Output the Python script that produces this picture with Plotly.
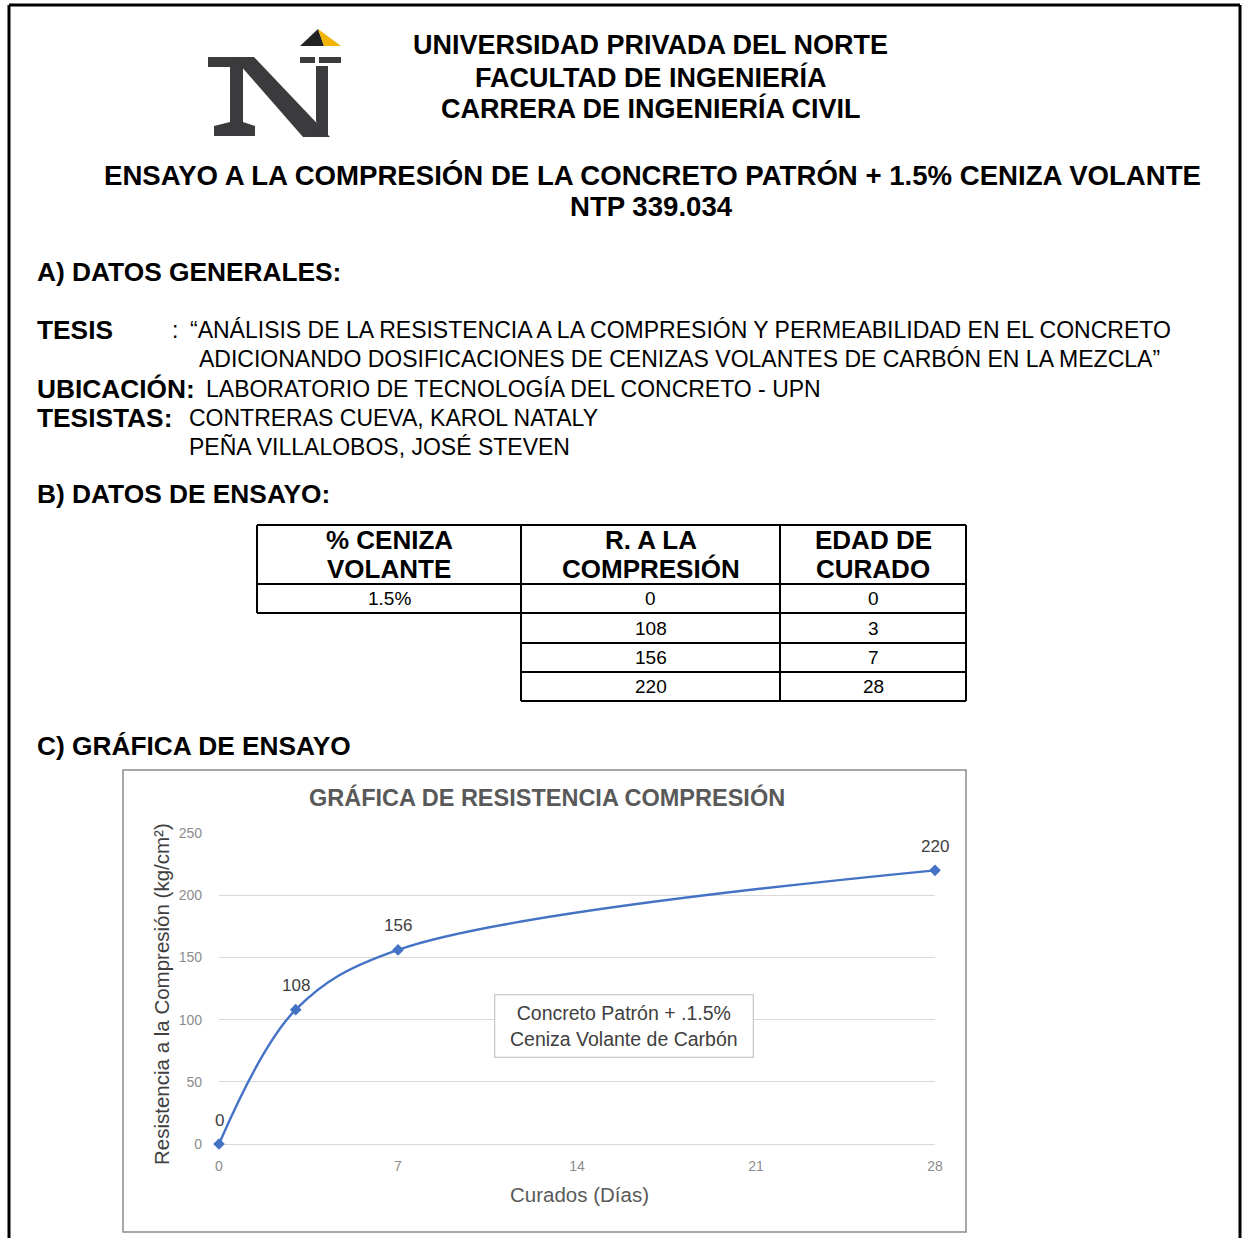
import plotly.graph_objects as go

# ---- data -------------------------------------------------------------
dias = [0, 3, 7, 28]                 # edad de curado (días)
resistencia = [0, 108, 156, 220]     # resistencia a la compresión (kg/cm²)
ceniza = "1.5%"
x_ticks = [0, 7, 14, 21, 28]
y_ticks = [0, 50, 100, 150, 200, 250]

W, H = 1243, 1238


def X(p):
    return p / W


def Y(p):
    return 1 - p / H


FONT = "Liberation Sans"

fig = go.Figure()

# curva de resistencia
fig.add_trace(go.Scatter(
    x=dias, y=resistencia, mode="lines+markers",
    line=dict(color="#4472C4", width=2.4, shape="spline", smoothing=1.0),
    marker=dict(symbol="diamond", size=9, color="#4472C4"),
    cliponaxis=False, showlegend=False, hoverinfo="x+y",
))

annotations = []
shapes = []


def text(t, x, y, size, bold=False, anchor="left", color="black"):
    annotations.append(dict(
        text=f"<b>{t}</b>" if bold else t, x=X(x), y=Y(y), xref="paper", yref="paper",
        xanchor=anchor, yanchor="middle", showarrow=False,
        font=dict(size=size, color=color, family=FONT),
    ))


def line(x0, y0, x1, y1, color="black", width=2):
    shapes.append(dict(type="line", xref="paper", yref="paper",
                       x0=X(x0), y0=Y(y0), x1=X(x1), y1=Y(y1),
                       line=dict(color=color, width=width)))


def poly(points, color):
    d = "M " + " L ".join(f"{X(a)},{Y(b)}" for a, b in points) + " Z"
    shapes.append(dict(type="path", xref="paper", yref="paper", path=d,
                       fillcolor=color, line=dict(width=0)))


# marco de la hoja
line(9, 5, 1240, 5, width=3)
line(9, 5, 9, 1240, width=3)
line(1240, 5, 1240, 1240, width=3)

# logotipo
dark = "#3b3b3d"
poly([(208, 57), (247, 57), (247, 67), (243, 67), (243, 122), (255, 126),
      (255, 136), (214, 136), (214, 126), (230, 122), (230, 67), (208, 67)], dark)
poly([(233, 57), (254, 57), (330, 137), (303, 137)], dark)
poly([(316, 66), (328, 66), (328, 137), (318, 137), (316, 120)], dark)
poly([(300, 57), (315, 57), (315, 63), (300, 63)], dark)
poly([(319, 57), (341, 57), (341, 63), (319, 63)], dark)
poly([(300, 46), (318, 29), (324, 46)], "#222222")
poly([(318, 29), (341, 46), (324, 46)], "#f0b400")

# encabezado
text("UNIVERSIDAD PRIVADA DEL NORTE", 650, 45, 27, bold=True, anchor="center")
text("FACULTAD DE INGENIERÍA", 651, 77, 27, bold=True, anchor="center")
text("CARRERA DE INGENIERÍA CIVIL", 651, 108, 27, bold=True, anchor="center")
text("ENSAYO A LA COMPRESIÓN DE LA CONCRETO PATRÓN + 1.5% CENIZA VOLANTE",
     652, 175, 27.6, bold=True, anchor="center")
text("NTP 339.034", 651, 207, 27.6, bold=True, anchor="center")

# A) datos generales
text("A) DATOS GENERALES:", 35, 272, 26.3, bold=True)
text("TESIS", 35, 330, 26.3, bold=True)
text(":", 170, 330, 23)
text("“ANÁLISIS DE LA RESISTENCIA A LA COMPRESIÓN Y PERMEABILIDAD EN EL CONCRETO",
     188, 330, 23)
text("ADICIONANDO DOSIFICACIONES DE CENIZAS VOLANTES DE CARBÓN EN LA MEZCLA”",
     197, 359, 23)
text("UBICACIÓN:", 35, 389, 26.3, bold=True)
text("LABORATORIO DE TECNOLOGÍA DEL CONCRETO - UPN", 204, 389, 23)
text("TESISTAS:", 35, 418, 26.3, bold=True)
text("CONTRERAS CUEVA, KAROL NATALY", 187, 418, 23)
text("PEÑA VILLALOBOS, JOSÉ STEVEN", 187, 447, 23)

# B) datos de ensayo (tabla)
text("B) DATOS DE ENSAYO:", 35, 494, 26.3, bold=True)
cols = [257, 521, 780, 966]
rows = [525, 584, 613, 643, 672, 701]
line(cols[0], rows[0], cols[3], rows[0])
line(cols[0], rows[1], cols[3], rows[1])
line(cols[0], rows[2], cols[3], rows[2])
for r in rows[3:]:
    line(cols[1], r, cols[3], r)
line(cols[0], rows[0], cols[0], rows[2])
for c in cols[1:]:
    line(c, rows[0], c, rows[-1])

headers = [("% CENIZA", "VOLANTE"), ("R. A LA", "COMPRESIÓN"), ("EDAD DE", "CURADO")]
for i, (h1, h2) in enumerate(headers):
    xc = (cols[i] + cols[i + 1]) / 2
    text(h1, xc, 540, 26, bold=True, anchor="center")
    text(h2, xc, 569, 26, bold=True, anchor="center")
text(ceniza, (cols[0] + cols[1]) / 2, (rows[1] + rows[2]) / 2, 19, anchor="center")
for k, (r, d) in enumerate(zip(resistencia, dias)):
    yc = (rows[k + 1] + rows[k + 2]) / 2
    text(str(r), (cols[1] + cols[2]) / 2, yc, 19, anchor="center")
    text(str(d), (cols[2] + cols[3]) / 2, yc, 19, anchor="center")

# C) gráfica
text("C) GRÁFICA DE ENSAYO", 35, 746, 26.3, bold=True)
shapes.append(dict(type="rect", xref="paper", yref="paper",
                   x0=X(123), y0=Y(770), x1=X(966), y1=Y(1232),
                   line=dict(color="#8c8c8c", width=1.5), fillcolor="rgba(0,0,0,0)",
                   layer="below"))
text("<b>GRÁFICA DE RESISTENCIA COMPRESIÓN</b>", 547, 797, 23.5, color="#595959",
     anchor="center")
annotations.append(dict(
    text="Resistencia a la Compresión (kg/cm²)",
    x=X(161), y=Y(994), xref="paper", yref="paper", textangle=-90,
    xanchor="center", yanchor="middle", showarrow=False,
    font=dict(size=20.5, color="#404040", family=FONT)))
text("Curados (Días)", 579, 1194, 20.5, color="#595959", anchor="center")

# etiquetas de datos
for d, r in zip(dias, resistencia):
    annotations.append(dict(text=str(r), x=d, y=r, xref="x", yref="y",
                            yshift=24, showarrow=False,
                            font=dict(size=17, color="#404040", family=FONT)))

# cuadro de leyenda
annotations.append(dict(
    text="Concreto Patrón + .1.5%<br>Ceniza Volante de Carbón",
    x=X(623.5), y=Y(1026), xref="paper", yref="paper", xanchor="center", yanchor="middle",
    width=243, align="center",
    showarrow=False, bordercolor="#c8c8c8", borderwidth=1.3, borderpad=7,
    bgcolor="white", font=dict(size=19.5, color="#404040", family=FONT)))

fig.update_layout(
    width=W, height=H,
    margin=dict(l=0, r=0, t=0, b=0, pad=0, autoexpand=False),
    paper_bgcolor="white", plot_bgcolor="white",
    annotations=annotations, shapes=shapes, showlegend=False,
    xaxis=dict(domain=[X(219), X(935)], range=[0, 28], tickvals=x_ticks,
               showgrid=False, zeroline=False, showline=False, ticks="",
               automargin=False, ticklabelstandoff=12,
               tickfont=dict(size=14, color="#8c8c8c", family=FONT),
               anchor="y"),
    yaxis=dict(domain=[Y(1144), Y(833)], range=[0, 250], tickvals=y_ticks,
               showgrid=True, gridcolor="#d9d9d9", gridwidth=1.2, zeroline=True,
               zerolinecolor="#d9d9d9", zerolinewidth=1.2, showline=False, ticks="",
               automargin=False, ticklabelstandoff=16,
               tickfont=dict(size=14, color="#8c8c8c", family=FONT)),
)

fig.write_html("out.html")
